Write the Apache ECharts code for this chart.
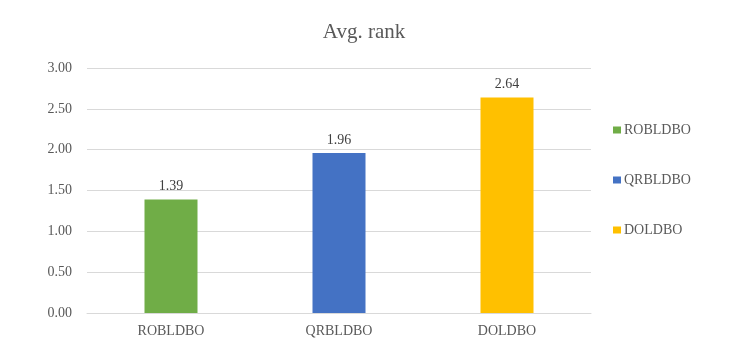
<!DOCTYPE html>
<html>
<head>
<meta charset="utf-8">
<script src="https://cdn.jsdelivr.net/npm/echarts@6/dist/echarts.min.js"></script>
<style>
  html, body { margin: 0; padding: 0; background: #fff; }
  #chart { width: 753px; height: 358px; }
</style>
</head>
<body>
<div id="chart"></div>
<script>
  // data
  var categories = ['ROBLDBO', 'QRBLDBO', 'DOLDBO'];
  var avgRank = [1.39, 1.96, 2.64];
  var colors = ['#70AD47', '#4472C4', '#FFC000'];
  var yTicks = [0, 0.5, 1, 1.5, 2, 2.5, 3];

  var font = '"Liberation Serif", "Times New Roman", serif';
  var myChart = echarts.init(document.getElementById('chart'));

  // one series per category so each gets its own legend entry
  var series = [];
  for (var i = 0; i < categories.length; i++) {
    var d = [];
    for (var j = 0; j < categories.length; j++) {
      d.push(j === i ? avgRank[j] : '-');
    }
    series.push({
      name: categories[i],
      type: 'bar',
      data: d,
      barWidth: 53,
      barGap: '-100%',
      itemStyle: { color: colors[i] },
      label: {
        show: true,
        position: 'top',
        distance: 6,
        formatter: function (p) { return p.value.toFixed(2); },
        fontFamily: font,
        fontSize: 14,
        color: '#404040'
      }
    });
  }

  myChart.setOption({
    animation: false,
    title: {
      text: 'Avg. rank',
      left: 364,
      textAlign: 'center',
      top: 22,
      padding: 0,
      textStyle: { fontFamily: font, fontSize: 21, fontWeight: 'normal', color: '#595959' }
    },
    legend: {
      orient: 'vertical',
      left: 613,
      top: 123,
      padding: 0,
      itemGap: 36,
      itemWidth: 8,
      itemHeight: 7,
      icon: 'rect',
      data: categories,
      textStyle: { fontFamily: font, fontSize: 14, color: '#595959', padding: [0, 0, 0, -2] }
    },
    grid: { left: 87, right: 162, top: 68, bottom: 45 },
    xAxis: {
      type: 'category',
      data: categories,
      axisTick: { show: false },
      axisLine: { lineStyle: { color: '#D9D9D9' } },
      axisLabel: { fontFamily: font, fontSize: 14, color: '#595959', margin: 11 }
    },
    yAxis: {
      type: 'value',
      min: yTicks[0],
      max: yTicks[yTicks.length - 1],
      interval: 0.5,
      axisLine: { show: false },
      axisTick: { show: false },
      splitLine: { lineStyle: { color: '#D9D9D9' } },
      axisLabel: {
        fontFamily: font, fontSize: 14, color: '#595959', margin: 15,
        formatter: function (v) { return v.toFixed(2); }
      }
    },
    series: series
  });
</script>
</body>
</html>
